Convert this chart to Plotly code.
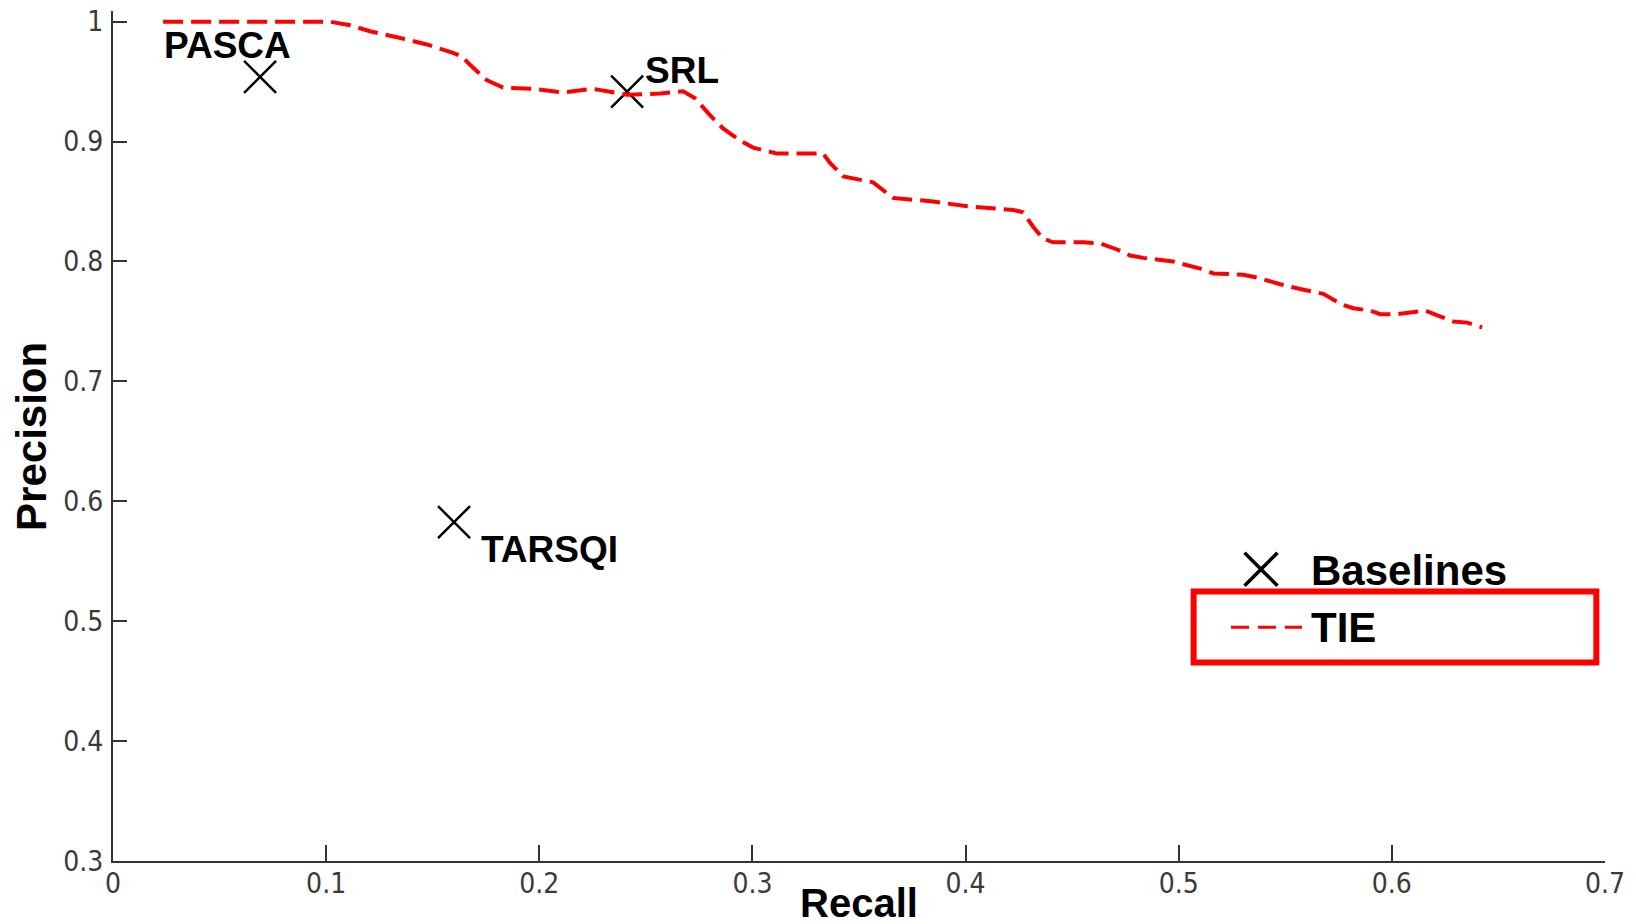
import plotly.graph_objects as go

# ---- data ----
tie_recall = [0.0235, 0.1018, 0.1112, 0.1206, 0.1333, 0.1473, 0.1595, 0.1638, 0.1675,
              0.1755, 0.1830, 0.1971, 0.2112, 0.2252, 0.2412, 0.2567, 0.2675, 0.2731,
              0.2801, 0.2862, 0.2942, 0.3003, 0.3116, 0.3332, 0.3365, 0.3426, 0.3566,
              0.3613, 0.3660, 0.3848, 0.4008, 0.4223, 0.4270, 0.4317, 0.4364, 0.4411,
              0.4552, 0.4632, 0.4711, 0.4772, 0.4833, 0.4974, 0.5040, 0.5101, 0.5162,
              0.5303, 0.5382, 0.5476, 0.5570, 0.5631, 0.5678, 0.5767, 0.5819, 0.5899,
              0.5946, 0.6025, 0.6086, 0.6157, 0.6213, 0.6288, 0.6354, 0.6424]
tie_precision = [1.000, 1.000, 0.997, 0.992, 0.987, 0.981, 0.974, 0.971, 0.964,
                 0.951, 0.945, 0.944, 0.941, 0.944, 0.939, 0.940, 0.942, 0.936,
                 0.922, 0.911, 0.901, 0.895, 0.890, 0.890, 0.882, 0.871, 0.866,
                 0.859, 0.853, 0.850, 0.846, 0.843, 0.841, 0.829, 0.819, 0.816,
                 0.816, 0.815, 0.810, 0.805, 0.803, 0.800, 0.797, 0.794, 0.790,
                 0.789, 0.786, 0.781, 0.777, 0.775, 0.773, 0.764, 0.761, 0.759,
                 0.756, 0.756, 0.757, 0.759, 0.755, 0.750, 0.749, 0.745]

baseline_names = ["PASCA", "SRL", "TARSQI"]
baseline_recall = [0.069, 0.2412, 0.160]
baseline_precision = [0.954, 0.9416, 0.5826]

x_tick_vals = [0, 0.1, 0.2, 0.3, 0.4, 0.5, 0.6, 0.7]
x_tick_text = ["0", "0.1", "0.2", "0.3", "0.4", "0.5", "0.6", "0.7"]
y_tick_vals = [0.3, 0.4, 0.5, 0.6, 0.7, 0.8, 0.9, 1.0]
y_tick_text = ["0.3", "0.4", "0.5", "0.6", "0.7", "0.8", "0.9", "1"]

legend_labels = ["Baselines", "TIE"]

# label offsets (px) relative to each baseline marker
label_offsets = {"PASCA": (-98, 31), "SRL": (16, 21), "TARSQI": (25, -27)}

BOLD = "Liberation Sans, Arial, Helvetica, sans-serif"
TICKFONT = "Liberation Sans Narrow, DejaVu Sans Condensed, Arial Narrow, sans-serif"
RED = "#ff0000"

fig = go.Figure()
fig.add_trace(go.Scatter(
    x=baseline_recall, y=baseline_precision, mode="markers", name=legend_labels[0],
    marker=dict(symbol="x-thin-open", size=32, color="black",
                line=dict(color="black", width=2.5)),
    showlegend=False,
))
fig.add_trace(go.Scatter(
    x=tie_recall, y=tie_precision, mode="lines", name=legend_labels[1],
    line=dict(color=RED, width=4, dash="20px,8px"),
    showlegend=False,
))

for name, rx, py in zip(baseline_names, baseline_recall, baseline_precision):
    xs, ys = label_offsets[name]
    fig.add_annotation(x=rx, y=py, text=name, showarrow=False,
                       xanchor="left", yanchor="middle", xshift=xs, yshift=ys,
                       font=dict(family=BOLD, size=37, color="black", weight="bold"))

# axis titles
fig.add_annotation(x=0.5, y=-0.049, xref="paper", yref="paper", text="Recall",
                   showarrow=False, xanchor="center", yanchor="middle",
                   font=dict(family=BOLD, size=40, color="black", weight="bold"))
fig.add_annotation(x=-0.055, y=0.5, xref="paper", yref="paper", text="Precision",
                   showarrow=False, xanchor="center", yanchor="middle", textangle=-90,
                   font=dict(family=BOLD, size=42, color="black", weight="bold"))

# ---- hand-drawn legend (keys as shapes, labels as text) ----
fig.add_shape(type="path", xref="paper", yref="paper",
              path="M 0.7584 0.3627 L 0.7805 0.3239 M 0.7584 0.3239 L 0.7805 0.3627",
              line=dict(color="black", width=3.5))
fig.add_shape(type="line", xref="paper", yref="paper",
              x0=0.7493, x1=0.7969, y0=0.2750, y1=0.2750,
              line=dict(color=RED, width=3, dash="18px,9px"))
fig.add_annotation(x=0.8016, y=0.3421, xref="paper", yref="paper", text=legend_labels[0],
                   showarrow=False, xanchor="left", yanchor="middle",
                   font=dict(family=BOLD, size=42, color="black", weight="bold"))
fig.add_annotation(x=0.8016, y=0.2750, xref="paper", yref="paper", text=legend_labels[1],
                   showarrow=False, xanchor="left", yanchor="middle",
                   font=dict(family=BOLD, size=42, color="black", weight="bold"))

# red highlight box around the TIE legend entry
fig.add_shape(type="rect", xref="paper", yref="paper",
              x0=0.7243, x1=0.9942, y0=0.2336, y1=0.3172,
              line=dict(color=RED, width=6), fillcolor="rgba(0,0,0,0)")

fig.update_layout(
    width=1636, height=924,
    margin=dict(l=113, r=31, t=11, b=63, autoexpand=False),
    paper_bgcolor="white", plot_bgcolor="white",
    showlegend=False,
    xaxis=dict(range=[0, 0.7], tickvals=x_tick_vals, ticktext=x_tick_text,
               showgrid=False, zeroline=False, showline=True, linecolor="#333333",
               linewidth=2, ticks="inside", ticklen=16, tickwidth=1.5,
               tickcolor="#333333", ticklabelstandoff=-4, automargin=False,
               tickfont=dict(family=TICKFONT, size=28, color="#3a3a3a")),
    yaxis=dict(range=[0.3, 1.0089], tickvals=y_tick_vals, ticktext=y_tick_text,
               showgrid=False, zeroline=False, showline=True, linecolor="#333333",
               linewidth=2, ticks="inside", ticklen=14, tickwidth=1.5,
               tickcolor="#333333", ticklabelstandoff=2, automargin=False,
               tickfont=dict(family=TICKFONT, size=28, color="#3a3a3a")),
)

fig.write_html("out.html")
